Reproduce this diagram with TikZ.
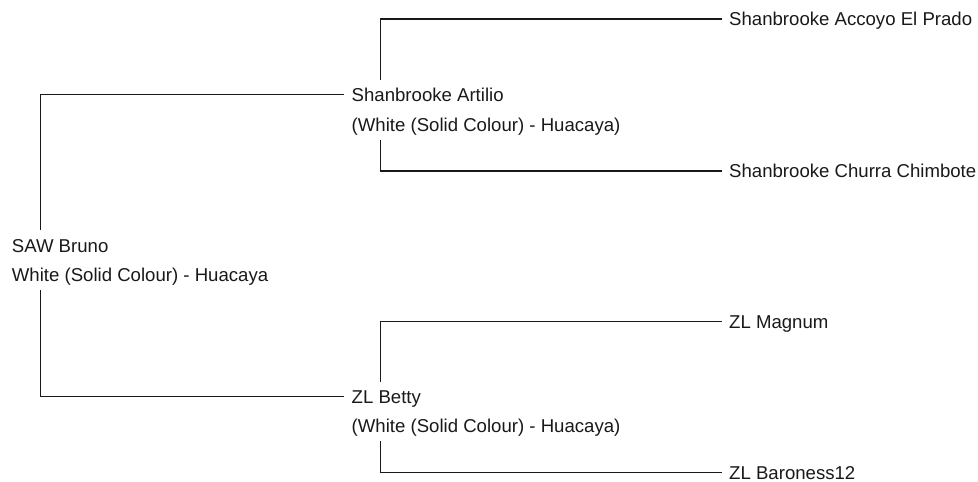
\documentclass[tikz,border=0pt]{standalone}
\usepackage{fontspec}
\setmainfont{Liberation Sans}
\usetikzlibrary{calc}
\begin{document}
\begin{tikzpicture}[x=1pt,y=-1pt,
  lbl/.style={anchor=base west,inner sep=0pt,font=\fontsize{18.6pt}{22pt}\selectfont,text=black!90},
  link/.style={draw=black!90,line width=1.2pt}]
\useasboundingbox (0,0) rectangle (978,482);
% nodes
\node[lbl] (bruno)    at (11.7,252) {SAW Bruno};
\node[lbl] (brunod)   at (11.7,281.5) {White (Solid Colour) - Huacaya};
\node[lbl] (artilio)  at (351.5,101) {Shanbrooke Artilio};
\node[lbl] (artiliod) at (351.5,131.5) {(White (Solid Colour) - Huacaya)};
\node[lbl] (accoyo)   at (729,25.3) {Shanbrooke Accoyo El Prado};
\node[lbl] (churra)   at (729,177.3) {Shanbrooke Churra Chimbote};
\node[lbl] (betty)    at (351.5,403) {ZL Betty};
\node[lbl] (bettyd)   at (351.5,432.5) {(White (Solid Colour) - Huacaya)};
\node[lbl] (magnum)   at (729,328) {ZL Magnum};
\node[lbl] (baroness) at (729,479) {ZL Baroness12};
% connectors
\draw[link] ($(bruno.base west)+(29,-22)$) |- ($(artilio.base west)+(-8,-6.3)$);
\draw[link] ($(brunod.base west)+(29,8.5)$) |- ($(betty.base west)+(-8,-6.3)$);
\draw[link] ($(artilio.base west)+(29.2,-21)$) |- ($(accoyo.base west)+(-7,-6.3)$);
\draw[link] ($(artiliod.base west)+(29.2,8.5)$) |- ($(churra.base west)+(-7,-6.3)$);
\draw[link] ($(betty.base west)+(29.2,-21)$) |- ($(magnum.base west)+(-7,-6.3)$);
\draw[link] ($(bettyd.base west)+(29.2,8.5)$) |- ($(baroness.base west)+(-7,-6.3)$);
\end{tikzpicture}
\end{document}
